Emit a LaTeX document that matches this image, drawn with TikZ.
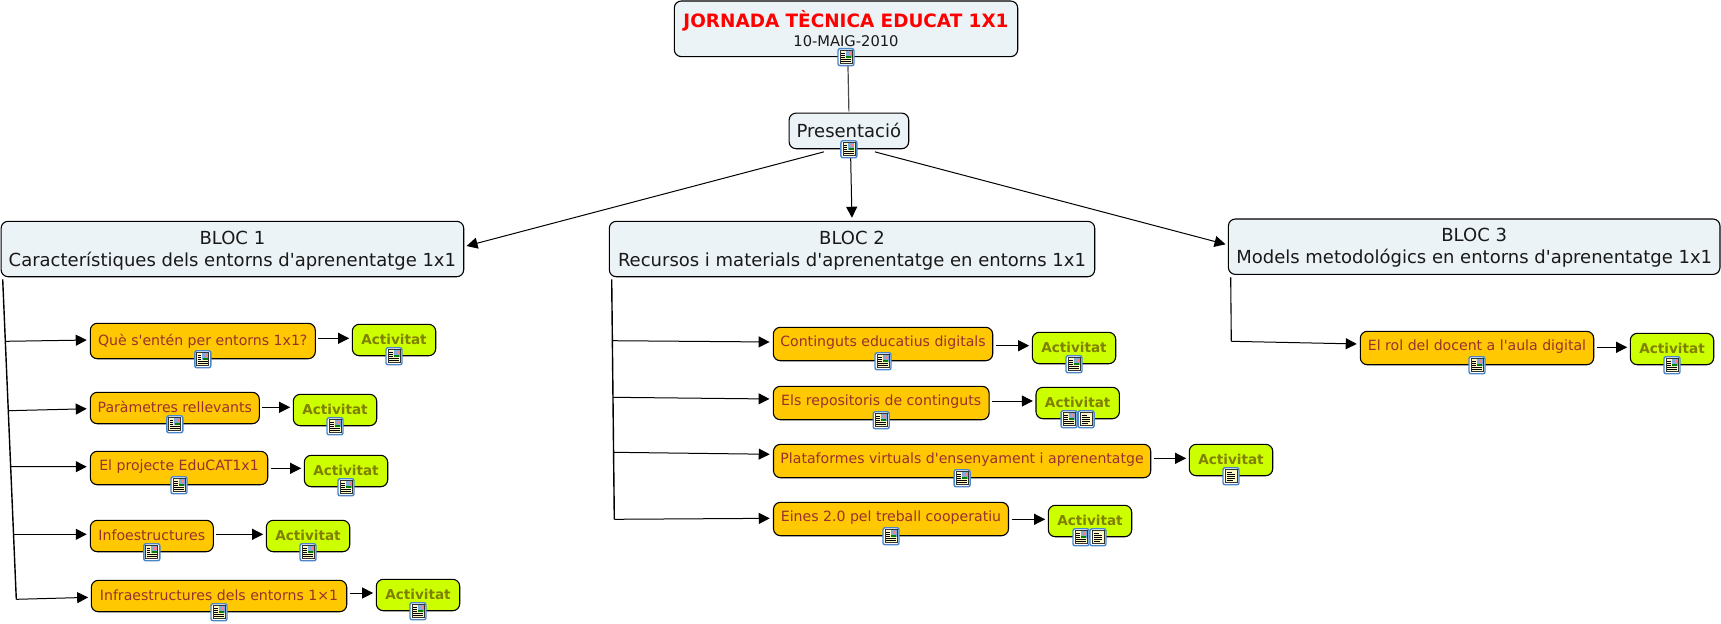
\documentclass[tikz,border=0pt]{standalone}
\usepackage{fontspec}
\setmainfont{DejaVu Sans}[Ligatures=TeXOff]
\usetikzlibrary{arrows.meta}
\definecolor{headfill}{HTML}{ECF3F6}
\definecolor{themefill}{HTML}{FFC800}
\definecolor{themetext}{HTML}{993030}
\definecolor{taskfill}{HTML}{CCFF00}
\definecolor{tasktext}{HTML}{808000}
\definecolor{iconblue}{HTML}{4A86C8}
\definecolor{iconpage}{HTML}{FFF8C8}
\tikzset{
  headbox/.style={draw=black,line width=0.55pt,fill=headfill,rounded corners=3.5pt,align=center,inner sep=0pt,text=black!90,font=\fontsize{9}{11}\selectfont},
  blochead/.style={headbox,minimum height=27.7pt,text height=19pt},
  themebox/.style={draw=black,line width=0.55pt,fill=themefill,rounded corners=3.5pt,inner sep=0pt,text=themetext,text height=7pt,text depth=4.5pt,font=\fontsize{7.05}{9}\selectfont},
  lowtext/.style={text depth=3pt},
  taskbox/.style={draw=black,line width=0.55pt,fill=taskfill,rounded corners=3.5pt,inner sep=0pt,text=tasktext,minimum width=41.7pt,minimum height=15.7pt,text height=7pt,text depth=3pt,font=\fontsize{6.8}{9}\bfseries\selectfont},
  conn/.style={line width=0.5pt,-{Triangle[length=5.5pt,width=5.5pt]}},
  gapped/.style={shorten >=1.3pt,shorten <=1.3pt},
  trunk/.style={line width=0.7pt},
  noteframe/.pic={
    \draw[draw=iconblue,fill=white,line width=0.7pt,rounded corners=1pt] (-8,-8.5) rectangle (8,8.5);
    \draw[draw=black!80,fill=iconpage,line width=0.35pt] (-6,-6.5) rectangle (6,6.5);
  },
  noteimg/.pic={
    \pic {noteframe};
    \fill[iconblue!70] (-0.5,-6) rectangle (5.5,0.5);
    \fill[red!50] (2.5,-5) rectangle (5,-2.5);
    \fill[green!50!black] (0,-1.5) rectangle (5,0.5);
    \draw[line width=0.35pt] (-5,-4) -- (-1.5,-4) (-5,-2) -- (-1.5,-2) (-5,0) -- (-1.5,0) (-5,2.2) -- (5,2.2) (-5,4.2) -- (5,4.2);
  },
  notedoc/.pic={
    \pic {noteframe};
    \draw[line width=0.35pt] (-4,-3.5) -- (1,-3.5) (-4,-1.5) -- (4,-1.5) (-4,0.5) -- (4,0.5) (-4,2.5) -- (4,2.5) (-4,4.5) -- (2,4.5);
  }
}
\begin{document}
\begin{tikzpicture}[x=0.5pt,y=-0.5pt]
  \useasboundingbox (0,0) rectangle (1721,623);

  % head of the map
  \node[headbox,minimum width=171.7pt,minimum height=27.8pt] (top) at (846,28.8)
    {{\color{red}\fontsize{9.2}{11}\bfseries\selectfont JORNADA TÈCNICA EDUCAT 1X1}\\[-1.6pt]{\fontsize{7.35}{9}\selectfont 10-MAIG-2010}};
  \node[headbox,minimum width=59.8pt,minimum height=17.8pt] (pres) at (848.9,130.9) {Presentació};

  \node[blochead,minimum width=231.3pt] (bloc1) at (232.4,249)
    {BLOC 1\\Característiques dels entorns d'aprenentatge 1x1};
  \node[blochead,minimum width=242.7pt] (bloc2) at (852,249)
    {BLOC 2\\Recursos i materials d'aprenentatge en entorns 1x1};
  \node[blochead,minimum width=245.8pt] (bloc3) at (1474.2,246.7)
    {BLOC 3\\Models metodológics en entorns d'aprenentatge 1x1};

  % bloc 1
  \node[themebox,lowtext,minimum width=112.5pt,minimum height=17.7pt] (que) at (202.8,341) {Què s'entén per entorns 1x1?};
  \node[themebox,lowtext,minimum width=84.5pt,minimum height=15.7pt] (par) at (174.8,408) {Paràmetres rellevants};
  \node[themebox,minimum width=88.7pt,minimum height=16.7pt] (proj) at (179,468) {El projecte EduCAT1x1};
  \node[themebox,lowtext,minimum width=61.5pt,minimum height=15.7pt] (info) at (151.8,536) {Infoestructures};
  \node[themebox,lowtext,minimum width=127.7pt,minimum height=15.7pt] (infra) at (219,596) {Infraestructures dels entorns 1×1};
  \node[taskbox] (act1) at (394,340) {Activitat};
  \node[taskbox] (act2) at (335,410) {Activitat};
  \node[taskbox] (act3) at (346,471) {Activitat};
  \node[taskbox] (act4) at (308,536) {Activitat};
  \node[taskbox] (act5) at (418,595) {Activitat};

  % bloc 2
  \node[themebox,minimum width=109.7pt,minimum height=16.7pt] (cont) at (883,344) {Continguts educatius digitals};
  \node[themebox,minimum width=107.9pt,minimum height=16.7pt] (repo) at (881.2,403) {Els repositoris de continguts};
  \node[themebox,minimum width=188.6pt,minimum height=16.7pt] (plat) at (962.1,461) {Plataformes virtuals d'ensenyament i aprenentatge};
  \node[themebox,minimum width=117.5pt,minimum height=16.7pt] (eines) at (891,519) {Eines 2.0 pel treball cooperatiu};
  \node[taskbox] (act6) at (1074,348) {Activitat};
  \node[taskbox] (act7) at (1077.7,403) {Activitat};
  \node[taskbox] (act8) at (1231,460) {Activitat};
  \node[taskbox] (act9) at (1090,521) {Activitat};

  % bloc 3
  \node[themebox,minimum width=116.7pt,minimum height=16.7pt] (rol) at (1477,348) {El rol del docent a l'aula digital};
  \node[taskbox] (act10) at (1672,349) {Activitat};

  % links between the heads
  \draw[line width=0.6pt,black!70] ([xshift=0.9pt]top.south) -- ([yshift=0.6pt]pres.north);
  \draw[conn] ([xshift=-12.5pt,yshift=-1.3pt]pres.south) -- ([xshift=1.15pt,yshift=1.5pt]bloc1.east);
  \draw[conn,shorten >=1.5pt] ([xshift=0.8pt]pres.south) -- (bloc2.north);
  \draw[conn] ([xshift=13pt,yshift=-1.3pt]pres.south) -- ([xshift=-1.15pt,yshift=1.2pt]bloc3.west);

  % trunk of bloc 1
  \coordinate (b1top) at (2.7,279.3);
  \coordinate (b1a) at (5.7,341.3);
  \coordinate (b1b) at (8,410.7);
  \coordinate (b1c) at (11,466.7);
  \coordinate (b1d) at (14,534.3);
  \coordinate (b1e) at (16.3,599.3);
  \draw[trunk] (b1top) -- (b1e);
  \draw[conn,shorten >=1.5pt] (b1a) -- ([yshift=0.5pt]que.west);
  \draw[conn,shorten >=1.5pt] (b1b) -- ([yshift=-0.35pt]par.west);
  \draw[conn,shorten >=1.5pt] (b1c) -- ([yshift=0.65pt]proj.west);
  \draw[conn,shorten >=1.5pt] (b1d) -- ([yshift=0.85pt]info.west);
  \draw[conn,shorten >=1.3pt] (b1e) -- ([yshift=-0.65pt]infra.west);

  % trunk of bloc 2
  \coordinate (b2top) at (611.7,279.3);
  \coordinate (b2a) at (612.7,340.7);
  \coordinate (b2b) at (613,397.3);
  \coordinate (b2c) at (613.9,452.3);
  \coordinate (b2d) at (614.3,519.3);
  \draw[trunk] (b2top) -- (b2d);
  \draw[conn,shorten >=1.6pt] (b2a) -- ([yshift=1pt]cont.west);
  \draw[conn,shorten >=1.6pt] (b2b) -- ([yshift=2pt]repo.west);
  \draw[conn,shorten >=1.6pt] (b2c) -- ([yshift=3.35pt]plat.west);
  \draw[conn,shorten >=1.6pt] (b2d) -- ([yshift=0.35pt]eines.west);

  % trunk of bloc 3
  \coordinate (b3top) at (1230.7,277.3);
  \coordinate (b3a) at (1231.3,341.3);
  \draw[line width=0.55pt] (b3top) -- (b3a);
  \draw[conn,shorten >=1.5pt] (b3a) -- ([yshift=2pt]rol.west);

  % theme to activity
  \draw[conn,gapped] ([yshift=1.35pt]que.east) -- ([yshift=0.85pt]act1.west);
  \draw[conn,gapped] ([yshift=0.35pt]par.east) -- ([yshift=1.35pt]act2.west);
  \draw[conn,gapped] ([yshift=-0.15pt]proj.east) -- ([yshift=1.35pt]act3.west);
  \draw[conn,gapped] ([yshift=0.85pt]info.east) -- ([yshift=0.85pt]act4.west);
  \draw[conn,gapped] ([yshift=1.5pt]infra.east) -- ([yshift=1pt]act5.west);
  \draw[conn,gapped] ([yshift=-0.85pt]cont.east) -- ([yshift=1.15pt]act6.west);
  \draw[conn,gapped] ([yshift=1pt]repo.east) -- ([yshift=1pt]act7.west);
  \draw[conn,gapped] ([yshift=1.35pt]plat.east) -- ([yshift=0.85pt]act8.west);
  \draw[conn,gapped] ([yshift=-0.15pt]eines.east) -- ([yshift=0.85pt]act9.west);
  \draw[conn,gapped] ([yshift=0.35pt]rol.east) -- ([yshift=0.85pt]act10.west);

  % note icons on the lower edges
  \pic at (top.south) {noteimg};
  \pic at (pres.south) {noteimg};
  \pic at (que.south) {noteimg};
  \pic at (par.south) {noteimg};
  \pic at (proj.south) {noteimg};
  \pic at (info.south) {noteimg};
  \pic at (infra.south) {noteimg};
  \pic at (cont.south) {noteimg};
  \pic at (repo.south) {noteimg};
  \pic at (plat.south) {noteimg};
  \pic at (eines.south) {noteimg};
  \pic at (rol.south) {noteimg};
  \pic at (act1.south) {noteimg};
  \pic at (act2.south) {noteimg};
  \pic at (act3.south) {noteimg};
  \pic at (act4.south) {noteimg};
  \pic at (act5.south) {noteimg};
  \pic at (act6.south) {noteimg};
  \pic at ([xshift=-4.3pt]act7.south) {noteimg};
  \pic at ([xshift=4.2pt]act7.south) {notedoc};
  \pic at (act8.south) {notedoc};
  \pic at ([xshift=-4.5pt]act9.south) {noteimg};
  \pic at ([xshift=4pt]act9.south) {notedoc};
  \pic at (act10.south) {noteimg};
\end{tikzpicture}
\end{document}
